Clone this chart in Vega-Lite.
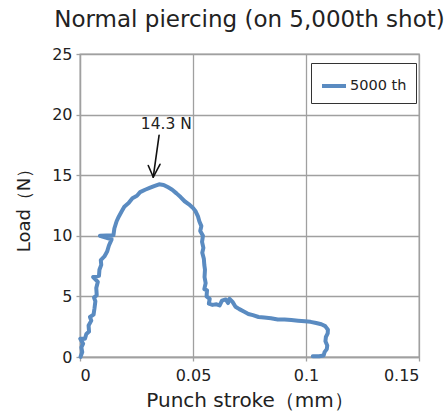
{
  "$schema": "https://vega.github.io/schema/vega-lite/v6.json",
  "width": 339,
  "height": 303,
  "autosize": "none",
  "padding": {"left": 80, "top": 54, "right": 26, "bottom": 62},
  "background": "white",
  "config": {
    "font": "DejaVu Sans",
    "view": {"stroke": "#a0a0a0", "strokeWidth": 1.3},
    "axis": {
      "gridColor": "#a0a0a0", "gridWidth": 1.3, "gridOpacity": 1,
      "domainColor": "#a0a0a0", "domainWidth": 1.3,
      "tickColor": "#a0a0a0", "tickWidth": 1.3, "tickSize": 4,
      "labelFont": "DejaVu Sans", "labelFontSize": 16, "labelColor": "#222",
      "titleFont": "DejaVu Sans", "titleFontSize": 18, "titleFontWeight": "normal", "titleColor": "#222"
    }
  },
  "title": {
    "text": "Normal piercing (on 5,000th shot)",
    "font": "DejaVu Sans",
    "fontSize": 23,
    "fontWeight": "normal",
    "color": "#222",
    "anchor": "middle",
    "offset": 14
  },
  "layer": [
    {
      "data": {"values": [
        {"i":0,"x":0.0002,"y":0.0,"s":"5000 th"},
        {"i":1,"x":0.0010,"y":0.4,"s":"5000 th"},
        {"i":2,"x":0.0006,"y":0.8,"s":"5000 th"},
        {"i":3,"x":0.0014,"y":1.1,"s":"5000 th"},
        {"i":4,"x":0.0001,"y":1.5,"s":"5000 th"},
        {"i":5,"x":0.0022,"y":1.5,"s":"5000 th"},
        {"i":6,"x":0.0028,"y":1.9,"s":"5000 th"},
        {"i":7,"x":0.0040,"y":2.1,"s":"5000 th"},
        {"i":8,"x":0.0038,"y":2.6,"s":"5000 th"},
        {"i":9,"x":0.0050,"y":3.0,"s":"5000 th"},
        {"i":10,"x":0.0044,"y":3.3,"s":"5000 th"},
        {"i":11,"x":0.0060,"y":3.5,"s":"5000 th"},
        {"i":12,"x":0.0064,"y":4.0,"s":"5000 th"},
        {"i":13,"x":0.0068,"y":4.6,"s":"5000 th"},
        {"i":14,"x":0.0062,"y":4.9,"s":"5000 th"},
        {"i":15,"x":0.0074,"y":5.1,"s":"5000 th"},
        {"i":16,"x":0.0072,"y":5.7,"s":"5000 th"},
        {"i":17,"x":0.0079,"y":6.2,"s":"5000 th"},
        {"i":18,"x":0.0058,"y":6.6,"s":"5000 th"},
        {"i":19,"x":0.0084,"y":6.7,"s":"5000 th"},
        {"i":20,"x":0.0086,"y":7.2,"s":"5000 th"},
        {"i":21,"x":0.0094,"y":7.6,"s":"5000 th"},
        {"i":22,"x":0.0092,"y":8.0,"s":"5000 th"},
        {"i":23,"x":0.0108,"y":8.3,"s":"5000 th"},
        {"i":24,"x":0.0120,"y":8.7,"s":"5000 th"},
        {"i":25,"x":0.0128,"y":9.2,"s":"5000 th"},
        {"i":26,"x":0.0140,"y":9.7,"s":"5000 th"},
        {"i":27,"x":0.0088,"y":10.0,"s":"5000 th"},
        {"i":28,"x":0.0148,"y":10.05,"s":"5000 th"},
        {"i":29,"x":0.0152,"y":10.6,"s":"5000 th"},
        {"i":30,"x":0.0162,"y":11.2,"s":"5000 th"},
        {"i":31,"x":0.0172,"y":11.6,"s":"5000 th"},
        {"i":32,"x":0.0184,"y":12.0,"s":"5000 th"},
        {"i":33,"x":0.0196,"y":12.4,"s":"5000 th"},
        {"i":34,"x":0.0215,"y":12.7,"s":"5000 th"},
        {"i":35,"x":0.0232,"y":13.1,"s":"5000 th"},
        {"i":36,"x":0.0252,"y":13.3,"s":"5000 th"},
        {"i":37,"x":0.0266,"y":13.6,"s":"5000 th"},
        {"i":38,"x":0.0288,"y":13.8,"s":"5000 th"},
        {"i":39,"x":0.0308,"y":13.95,"s":"5000 th"},
        {"i":40,"x":0.0328,"y":14.1,"s":"5000 th"},
        {"i":41,"x":0.0350,"y":14.25,"s":"5000 th"},
        {"i":42,"x":0.0370,"y":14.2,"s":"5000 th"},
        {"i":43,"x":0.0390,"y":14.0,"s":"5000 th"},
        {"i":44,"x":0.0408,"y":13.8,"s":"5000 th"},
        {"i":45,"x":0.0427,"y":13.5,"s":"5000 th"},
        {"i":46,"x":0.0445,"y":13.2,"s":"5000 th"},
        {"i":47,"x":0.0463,"y":12.85,"s":"5000 th"},
        {"i":48,"x":0.0482,"y":12.6,"s":"5000 th"},
        {"i":49,"x":0.0500,"y":12.3,"s":"5000 th"},
        {"i":50,"x":0.0512,"y":12.0,"s":"5000 th"},
        {"i":51,"x":0.0522,"y":11.6,"s":"5000 th"},
        {"i":52,"x":0.0528,"y":11.2,"s":"5000 th"},
        {"i":53,"x":0.0537,"y":10.8,"s":"5000 th"},
        {"i":54,"x":0.0532,"y":10.4,"s":"5000 th"},
        {"i":55,"x":0.0544,"y":10.0,"s":"5000 th"},
        {"i":56,"x":0.0540,"y":9.5,"s":"5000 th"},
        {"i":57,"x":0.0546,"y":9.0,"s":"5000 th"},
        {"i":58,"x":0.0541,"y":8.6,"s":"5000 th"},
        {"i":59,"x":0.0548,"y":8.1,"s":"5000 th"},
        {"i":60,"x":0.0550,"y":7.6,"s":"5000 th"},
        {"i":61,"x":0.0553,"y":7.2,"s":"5000 th"},
        {"i":62,"x":0.0551,"y":6.6,"s":"5000 th"},
        {"i":63,"x":0.0556,"y":6.1,"s":"5000 th"},
        {"i":64,"x":0.0550,"y":5.6,"s":"5000 th"},
        {"i":65,"x":0.0562,"y":5.5,"s":"5000 th"},
        {"i":66,"x":0.0560,"y":5.0,"s":"5000 th"},
        {"i":67,"x":0.0574,"y":4.8,"s":"5000 th"},
        {"i":68,"x":0.0570,"y":4.4,"s":"5000 th"},
        {"i":69,"x":0.0586,"y":4.3,"s":"5000 th"},
        {"i":70,"x":0.0604,"y":4.35,"s":"5000 th"},
        {"i":71,"x":0.0618,"y":4.25,"s":"5000 th"},
        {"i":72,"x":0.0628,"y":4.65,"s":"5000 th"},
        {"i":73,"x":0.0645,"y":4.75,"s":"5000 th"},
        {"i":74,"x":0.0655,"y":4.45,"s":"5000 th"},
        {"i":75,"x":0.0662,"y":4.8,"s":"5000 th"},
        {"i":76,"x":0.0675,"y":4.55,"s":"5000 th"},
        {"i":77,"x":0.0688,"y":4.15,"s":"5000 th"},
        {"i":78,"x":0.0705,"y":3.95,"s":"5000 th"},
        {"i":79,"x":0.0725,"y":3.75,"s":"5000 th"},
        {"i":80,"x":0.0745,"y":3.55,"s":"5000 th"},
        {"i":81,"x":0.0765,"y":3.45,"s":"5000 th"},
        {"i":82,"x":0.0790,"y":3.3,"s":"5000 th"},
        {"i":83,"x":0.0815,"y":3.25,"s":"5000 th"},
        {"i":84,"x":0.0845,"y":3.2,"s":"5000 th"},
        {"i":85,"x":0.0875,"y":3.1,"s":"5000 th"},
        {"i":86,"x":0.0905,"y":3.1,"s":"5000 th"},
        {"i":87,"x":0.0935,"y":3.05,"s":"5000 th"},
        {"i":88,"x":0.0965,"y":3.0,"s":"5000 th"},
        {"i":89,"x":0.0995,"y":2.95,"s":"5000 th"},
        {"i":90,"x":0.1020,"y":2.9,"s":"5000 th"},
        {"i":91,"x":0.1045,"y":2.8,"s":"5000 th"},
        {"i":92,"x":0.1068,"y":2.7,"s":"5000 th"},
        {"i":93,"x":0.1085,"y":2.55,"s":"5000 th"},
        {"i":94,"x":0.1097,"y":2.25,"s":"5000 th"},
        {"i":95,"x":0.1096,"y":1.95,"s":"5000 th"},
        {"i":96,"x":0.1088,"y":1.65,"s":"5000 th"},
        {"i":97,"x":0.1086,"y":1.3,"s":"5000 th"},
        {"i":98,"x":0.1094,"y":0.95,"s":"5000 th"},
        {"i":99,"x":0.1092,"y":0.65,"s":"5000 th"},
        {"i":100,"x":0.1082,"y":0.4,"s":"5000 th"},
        {"i":101,"x":0.1078,"y":0.12,"s":"5000 th"},
        {"i":102,"x":0.1058,"y":0.06,"s":"5000 th"},
        {"i":103,"x":0.1030,"y":0.06,"s":"5000 th"}
      ]},
      "mark": {"type": "line", "strokeWidth": 4, "strokeJoin": "round", "strokeCap": "round"},
      "encoding": {
        "x": {"field": "x", "type": "quantitative",
          "scale": {"domain": [0, 0.15], "nice": false, "zero": false},
          "axis": {"values": [0, 0.05, 0.1, 0.15], "format": "~g", "title": "Punch stroke（mm）",
                   "titleFontSize": 20, "labelPadding": 6, "titlePadding": 7}},
        "y": {"field": "y", "type": "quantitative",
          "scale": {"domain": [0, 25], "nice": false},
          "axis": {"values": [0, 5, 10, 15, 20, 25], "title": "Load（N）",
                   "labelPadding": 4, "titlePadding": 18}},
        "order": {"field": "i", "type": "quantitative"},
        "color": {"field": "s", "type": "nominal",
          "scale": {"range": ["#5a8bc1"]},
          "legend": {"title": null, "orient": "none", "legendX": 231, "legendY": 9,
            "symbolType": "stroke", "symbolSize": 576, "symbolStrokeWidth": 4,
            "labelFontSize": 14.5, "labelColor": "#222", "labelFont": "DejaVu Sans",
            "strokeColor": "#333", "padding": 9, "labelOffset": 2}}
      }
    },
    {
      "data": {"values": [{"x": 0.0382, "y": 19.2, "t": "14.3 N"}]},
      "mark": {"type": "text", "fontSize": 15.5, "color": "#222", "font": "DejaVu Sans", "baseline": "middle", "align": "center"},
      "encoding": {
        "x": {"field": "x", "type": "quantitative"},
        "y": {"field": "y", "type": "quantitative"},
        "text": {"field": "t"}
      }
    },
    {
      "data": {"values": [
        {"x": 0.0350, "y": 18.3, "x2": 0.0324, "y2": 14.85},
        {"x": 0.0302, "y": 15.8, "x2": 0.0324, "y2": 14.85},
        {"x": 0.0354, "y": 15.9, "x2": 0.0324, "y2": 14.85}
      ]},
      "mark": {"type": "rule", "color": "#111", "strokeWidth": 1.6, "strokeCap": "round"},
      "encoding": {
        "x": {"field": "x", "type": "quantitative"},
        "y": {"field": "y", "type": "quantitative"},
        "x2": {"field": "x2"},
        "y2": {"field": "y2"}
      }
    }
  ]
}
